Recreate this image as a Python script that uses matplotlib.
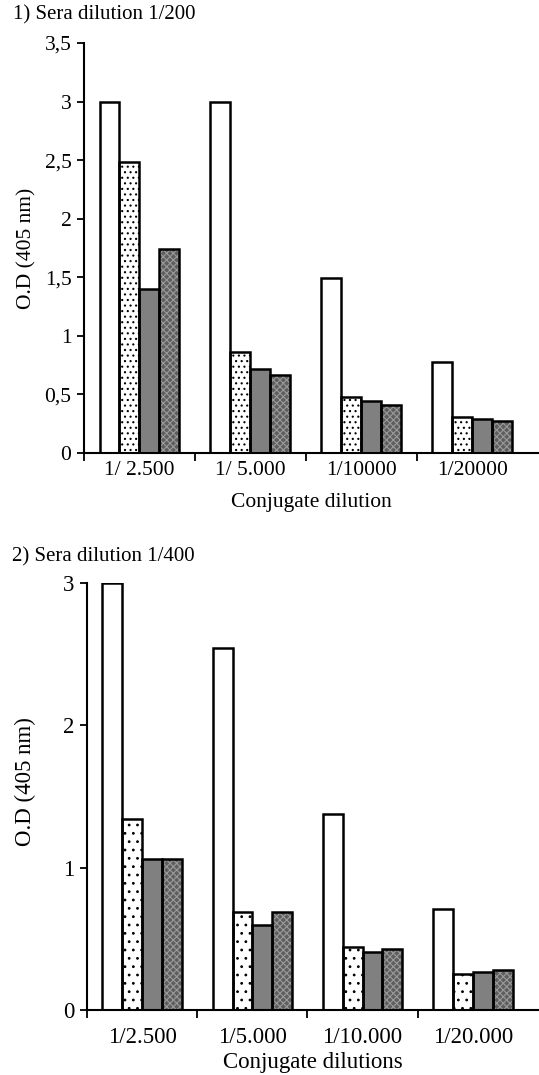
import numpy as np
import matplotlib
matplotlib.use("Agg")
import matplotlib.pyplot as plt

plt.rcParams["font.family"] = ["Liberation Serif", "DejaVu Serif"]
plt.rcParams["hatch.linewidth"] = 0.8

# Panel 1: sera dilution 1/200
top_labels = ["1/ 2.500", "1/ 5.000", "1/10000", "1/20000"]
top_white = [3.00, 3.00, 1.49, 0.78]
top_dotted = [2.48, 0.86, 0.48, 0.31]
top_gray = [1.40, 0.72, 0.44, 0.29]
top_cross = [1.74, 0.67, 0.41, 0.27]

# Panel 2: sera dilution 1/400
bot_labels = ["1/2.500", "1/5.000", "1/10.000", "1/20.000"]
bot_white = [3.00, 2.54, 1.38, 0.71]
bot_dotted = [1.34, 0.69, 0.44, 0.25]
bot_gray = [1.06, 0.60, 0.41, 0.265]
bot_cross = [1.06, 0.69, 0.425, 0.28]

fig = plt.figure(figsize=(5.39, 10.75), dpi=100)
ax1 = fig.add_axes([0.1558, 0.5786, 0.8442, 0.3814])
ax2 = fig.add_axes([0.1614, 0.0605, 0.8386, 0.3972])

bar_w = 0.18
offsets = np.array([-1.5, -0.5, 0.5, 1.5]) * bar_w
lw = 1.8


def draw_panel(ax, labels, series, dots, ymax, yticks, yticklabels, xlabel,
               fs, xpad, xlabpad, ylab_xy):
    x = np.arange(len(labels)) + 0.5
    styles = [
        dict(color="white", hatch=None, hcolor=None),
        dict(color="white", hatch=dots, hcolor="black"),
        dict(color="#808080", hatch=None, hcolor=None),
        dict(color="#5e5e5e", hatch="xxxxx", hcolor="#9a9a9a"),
    ]
    for vals, off, st in zip(series, offsets, styles):
        # fill (with hatch pattern drawn in its own colour)
        ax.bar(x + off, vals, bar_w, color=st["color"],
               hatch=st["hatch"], edgecolor=st["hcolor"] or st["color"],
               linewidth=0, zorder=2)
        # black outline
        ax.bar(x + off, vals, bar_w, fill=False, edgecolor="black",
               linewidth=lw, zorder=3)

    ax.set_xlim(0, 4.1)
    ax.set_ylim(0, ymax)
    ax.set_xticks([0, 1, 2, 3])
    ax.set_xticklabels([])
    ax.set_xticks(x, minor=True)
    ax.set_xticklabels(labels, minor=True, fontsize=fs)
    ax.tick_params(axis="x", which="major", direction="out", length=6, width=1.3)
    ax.tick_params(axis="x", which="minor", length=0, pad=xpad)
    ax.set_yticks(yticks)
    ax.set_yticklabels(yticklabels, fontsize=fs)
    ax.tick_params(axis="y", direction="out", length=5, width=1.3, pad=4)
    for s in ["top", "right"]:
        ax.spines[s].set_visible(False)
    ax.spines["left"].set_linewidth(1.5)
    ax.spines["bottom"].set_linewidth(1.5)
    ax.set_ylabel("O.D (405 nm)", fontsize=fs)
    ax.yaxis.set_label_coords(*ylab_xy)
    ax.set_xlabel(xlabel, fontsize=fs, labelpad=xlabpad)


draw_panel(ax1, top_labels, [top_white, top_dotted, top_gray, top_cross], "...",
           3.5, [0, 0.5, 1, 1.5, 2, 2.5, 3, 3.5],
           ["0", "0,5", "1", "1,5", "2", "2,5", "3", "3,5"], "Conjugate dilution",
           15.5, 6, 9, (-0.105, 0.5))
draw_panel(ax2, bot_labels, [bot_white, bot_dotted, bot_gray, bot_cross], "..",
           3.0, [0, 1, 2, 3], ["0", "1", "2", "3"], "Conjugate dilutions",
           16.5, 12, 3, (-0.113, 0.534))

fig.text(0.024, 0.986, "1) Sera dilution 1/200", fontsize=15, va="center", ha="left")
fig.text(0.022, 0.482, "2) Sera dilution 1/400", fontsize=15, va="center", ha="left")

fig.savefig("out.png", dpi=100)
